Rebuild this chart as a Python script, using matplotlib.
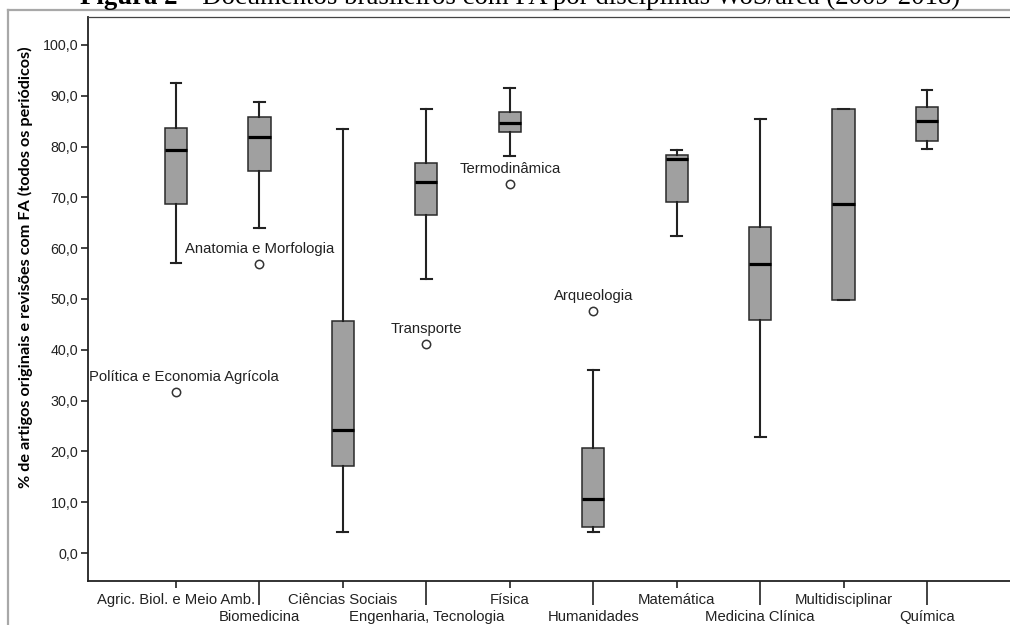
import matplotlib.pyplot as plt
from matplotlib.lines import Line2D

categories = ['Agric. Biol. e Meio Amb.', 'Biomedicina', 'Ciências Sociais',
              'Engenharia, Tecnologia', 'Física', 'Humanidades', 'Matemática',
              'Medicina Clínica', 'Multidisciplinar', 'Química']
whis_lo = [57.1, 64.0, 4.1, 53.9, 78.1, 4.2, 62.4, 22.8, 49.9, 79.5]
q1 = [68.6, 75.2, 17.2, 66.5, 82.8, 5.1, 69.0, 45.9, 49.9, 81.1]
median = [79.3, 81.8, 24.3, 73.0, 84.7, 10.6, 77.6, 56.8, 68.7, 85.0]
q3 = [83.6, 85.9, 45.7, 76.7, 86.8, 20.7, 78.3, 64.2, 87.4, 87.7]
whis_hi = [92.5, 88.8, 83.4, 87.3, 91.6, 36.0, 79.3, 85.4, 87.4, 91.2]
# outliers: (category position, value, label)
outliers = [(1, 31.6, 'Política e Economia Agrícola'),
            (2, 56.8, 'Anatomia e Morfologia'),
            (4, 41.1, 'Transporte'),
            (5, 72.6, 'Termodinâmica'),
            (6, 47.6, 'Arqueologia')]
yticks = [0, 10, 20, 30, 40, 50, 60, 70, 80, 90, 100]
ytick_labels = ['0,0', '10,0', '20,0', '30,0', '40,0', '50,0', '60,0', '70,0', '80,0', '90,0', '100,0']

plt.rcParams['font.family'] = ['Liberation Sans', 'DejaVu Sans']

W, H = 1010, 625
fig = plt.figure(figsize=(W / 100, H / 100), dpi=100)

# page frame (gray lines at left and top)
fig.add_artist(Line2D([8 / W, 8 / W], [0, 1 - 10 / H], color='#a8a8a8', lw=1.6))
fig.add_artist(Line2D([8 / W, 1], [1 - 10 / H, 1 - 10 / H], color='#a8a8a8', lw=1.6))

# caption, cut off by the top edge as in the source page
fig.text(177 / W, 1 - 4.5 / H, 'Figura 2', family='Liberation Serif', weight='bold',
         fontsize=19.3, ha='right', va='baseline')
fig.text(182 / W, 1 - 4.5 / H, '– Documentos brasileiros com FA por disciplinas WoS/área (2009-2018)',
         family='Liberation Serif', fontsize=19.3, ha='left', va='baseline')

ax = fig.add_axes([88 / W, (H - 581) / H, (1015 - 88) / W, (581 - 17) / H])

stats = []
for i in range(len(categories)):
    fl = [v for (p, v, t) in outliers if p == i + 1]
    stats.append(dict(whislo=whis_lo[i], q1=q1[i], med=median[i], q3=q3[i],
                      whishi=whis_hi[i], fliers=fl))

positions = list(range(1, len(categories) + 1))
ax.bxp(stats, positions=positions, widths=0.265, capwidths=0.13, patch_artist=True,
       boxprops=dict(facecolor='#a0a0a0', edgecolor='#2a2a2a', linewidth=1.1),
       medianprops=dict(color='black', linewidth=2.3),
       whiskerprops=dict(color='#222222', linewidth=1.5),
       capprops=dict(color='#222222', linewidth=1.5),
       flierprops=dict(marker='o', markersize=6, markerfacecolor='white',
                       markeredgecolor='#333333', markeredgewidth=1.1))

for p, v, t in outliers:
    dx = 8 if p == 1 else 0
    ax.annotate(t, (p, v), xytext=(dx, 8), textcoords='offset pixels',
                ha='center', va='bottom', fontsize=10.7, color='#222222')

ax.set_xlim(1 - 88 / 83.4, len(categories) + 88 / 83.4)
ax.set_ylim(-5.5, 105.5)

ax.set_yticks(yticks)
ax.set_yticklabels(ytick_labels)
ax.tick_params(axis='y', length=5, width=1.2, pad=2, labelsize=10.3, colors='#222222')

ax.set_xticks(positions[0::2])
ax.set_xticklabels(categories[0::2])
ax.set_xticks(positions[1::2], minor=True)
ax.set_xticklabels(categories[1::2], minor=True)
ax.tick_params(axis='x', which='major', length=5, width=1.2, pad=3.5, labelsize=10.7, colors='#222222')
ax.tick_params(axis='x', which='minor', length=17, width=1.2, pad=4.2, labelsize=10.7, colors='#222222')

for s in ['left', 'bottom']:
    ax.spines[s].set_linewidth(1.3)
    ax.spines[s].set_color('#222222')
ax.spines['top'].set_linewidth(0.9)
ax.spines['top'].set_color('#444444')
ax.spines['right'].set_visible(False)

fig.text(25 / W, 1 - 267 / H,
         '% de artigos originais e revisões com FA (todos os periódicos)',
         rotation=90, ha='center', va='center', family='Lato', weight='bold', fontsize=11.7)

fig.savefig('out.png', dpi=100)
